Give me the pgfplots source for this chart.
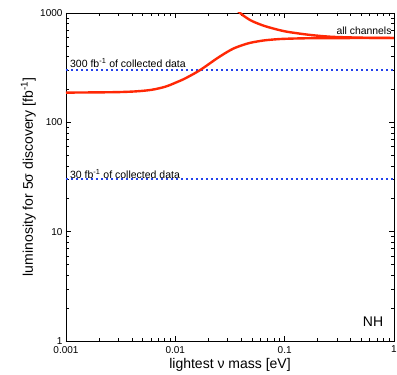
\documentclass[border=0pt]{standalone}
\usepackage{pgfplots}
\pgfplotsset{compat=1.18}
\usepackage{fontspec}
\setmainfont{Liberation Sans}
\definecolor{curvered}{RGB}{255,40,5}
\definecolor{dotblue}{RGB}{35,65,235}
\begin{document}
\begin{tikzpicture}
\begin{axis}[
  scale only axis,
  width=328pt, height=328pt,
  xmode=log, ymode=log,
  xmin=0.001, xmax=1, ymin=1, ymax=1000,
  xtick={0.001,0.01,0.1,1}, xticklabels={0.001,0.01,0.1,1},
  ytick={1,10,100,1000}, yticklabels={1,10,100,1000},
  tick align=inside,
  major tick length=5pt, minor tick length=3pt,
  every tick/.style={black, line width=0.5pt},
  axis line style={line width=0.9pt},
  tick label style={font=\fontsize{10}{12}\selectfont},
  xticklabel style={yshift=-1.5pt},
  xlabel={lightest ν mass [eV]},
  ylabel={luminosity for 5σ discovery [fb\textsuperscript{-1}]},
  label style={font=\fontsize{14}{16}\selectfont},
  xlabel style={at={(axis description cs:0.5,-0.073)}, anchor=center},
  ylabel style={at={(axis description cs:-0.115,0.5)}, anchor=center},
]
\addplot[color=dotblue, line width=2pt, dash pattern=on 2.2pt off 2.8pt] coordinates {(0.001,300) (1,300)};
\addplot[color=dotblue, line width=2pt, dash pattern=on 2.2pt off 2.8pt] coordinates {(0.001,30) (1,30)};
\addplot[color=curvered, line width=2.4pt, smooth] coordinates {
(0.001,187) (0.002,188) (0.003,189) (0.004,191) (0.005,194) (0.006,198)
(0.007,204) (0.008,211) (0.009,220) (0.010,230) (0.0118,247) (0.014,270)
(0.0168,300) (0.0200,338) (0.0239,383) (0.0290,433)
(0.0340,473) (0.0410,508) (0.0482,533) (0.058,552) (0.0685,565) (0.0908,578) (0.13,585)
(0.2,589) (0.4,590) (1,590)};
\addplot[color=curvered, line width=2.4pt, smooth] coordinates {
(0.03,1300) (0.0391,1000) (0.0482,863) (0.058,795) (0.0685,750) (0.0908,695) (0.112,667)
(0.171,630) (0.26,607) (0.396,598) (0.6,593) (1,591)};
\node[anchor=west, font=\fontsize{10.5}{12}\selectfont, inner sep=0pt] at (rel axis cs:0.012,0.846) {300 fb\textsuperscript{-1} of collected data};
\node[anchor=west, font=\fontsize{10.5}{12}\selectfont, inner sep=0pt] at (rel axis cs:0.012,0.508) {30 fb\textsuperscript{-1} of collected data};
\node[anchor=east, font=\fontsize{10.4}{12}\selectfont, inner sep=0pt] at (rel axis cs:0.993,0.946) {all channels};
\node[anchor=center, font=\fontsize{14}{16}\selectfont, inner sep=0pt] at (rel axis cs:0.936,0.059) {NH};
\end{axis}
\pgfresetboundingbox
\path ([shift={(-66pt,-34pt)}]current axis.south west) rectangle ([shift={(3pt,13pt)}]current axis.north east);
\end{tikzpicture}
\end{document}
